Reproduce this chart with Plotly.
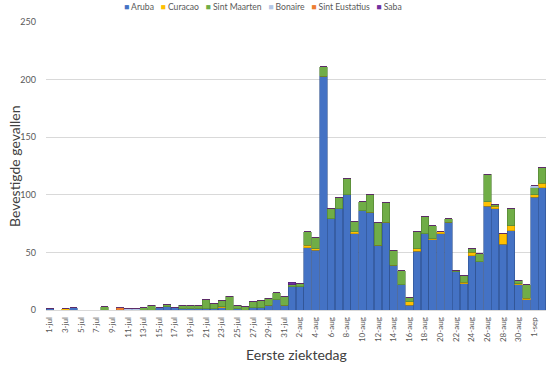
import plotly.graph_objects as go

dates = [f"{d}-jul" for d in range(1, 32)] + [f"{d}-aug" for d in range(1, 32)] + ["1-sep", "2-sep"]

aruba = [1, 0, 0, 2, 0, 0, 0, 0, 0, 0, 0, 0, 0, 0, 2, 3, 2, 1, 1, 1, 1, 1, 2, 0, 1, 0, 2, 2, 4, 9, 4,
         20, 20, 54, 52, 203, 79, 88, 100, 66, 86, 85, 56, 76, 39, 22, 4, 51, 66, 61, 66, 76, 33, 23, 47, 42,
         90, 88, 57, 69, 22, 9, 98, 106]
curacao = [0, 0, 1, 0, 0, 0, 0, 0, 0, 0, 0, 0, 0, 0, 0, 0, 0, 0, 0, 0, 0, 0, 1, 0, 0, 0, 0, 0, 0, 0, 0,
           0, 0, 2, 1, 0, 0, 0, 0, 2, 0, 0, 0, 0, 0, 0, 3, 2, 0, 1, 2, 0, 0, 1, 3, 0,
           4, 2, 9, 4, 1, 1, 2, 4]
sint_maarten = [0, 0, 0, 0, 0, 0, 0, 3, 0, 0, 0, 0, 2, 4, 0, 2, 0, 3, 3, 3, 8, 5, 5, 12, 3, 3, 5, 6, 6, 6, 8,
                2, 3, 12, 10, 8, 9, 10, 14, 9, 8, 15, 20, 17, 13, 12, 4, 15, 15, 11, 0, 3, 1, 6, 3, 7,
                24, 2, 0, 15, 3, 12, 6, 14]
bonaire = [0] * 10 + [1, 1] + [0] * 50 + [2, 0]
sint_eustatius = [0] * 9 + [2] + [0] * 54
saba = [0] * 31 + [2] + [0] * 32

tick_labels = dates[0:63:2]

series = [
    ("Aruba", aruba, "#4472C4", "#2F528F"),
    ("Curacao", curacao, "#FFC000", "#BC8C00"),
    ("Sint Maarten", sint_maarten, "#70AD47", "#507E32"),
    ("Bonaire", bonaire, "#B4C7E7", "#8FAADC"),
    ("Sint Eustatius", sint_eustatius, "#ED7D31", "#AE5A21"),
    ("Saba", saba, "#7030A0", "#4E2070"),
]

fig = go.Figure()
for name, vals, col, lcol in series:
    fig.add_trace(go.Bar(x=dates, y=vals, name=name, marker=dict(color=col, line=dict(color=lcol, width=0.6))))

legend_text = "&nbsp;&nbsp;&nbsp;".join(
    f"<span style='color:{c}'>■</span> {n}" for n, _, c, _ in series)

L, T, PW, PH = 46, 22, 500, 288

fig.update_layout(
    width=550, height=366,
    barmode="stack", bargap=0.04,
    showlegend=False,
    paper_bgcolor="white", plot_bgcolor="white",
    margin=dict(l=L, r=550 - L - PW, t=T, b=366 - T - PH, autoexpand=False),
    font=dict(family="Lato", color="#595959"),
    annotations=[
        dict(text=legend_text, xref="paper", yref="paper", x=(263 - L) / PW, y=1 + (T - 7) / PH,
             xanchor="center", yanchor="middle", showarrow=False, font=dict(size=8.6, color="#595959")),
        dict(text="Eerste ziektedag", xref="paper", yref="paper", x=0.5, y=-(354 - T - PH) / PH,
             xanchor="center", yanchor="middle", showarrow=False, font=dict(size=14, color="#404040")),
        dict(text="Bevestigde gevallen", xref="paper", yref="paper", x=-(L - 14) / PW, y=0.5,
             xanchor="center", yanchor="middle", textangle=-90, showarrow=False,
             font=dict(size=14, color="#404040")),
    ],
)
fig.update_yaxes(range=[0, 250], dtick=50, showgrid=True, gridcolor="#D9D9D9", gridwidth=1,
                 zeroline=False, showline=False, tickfont=dict(size=9, color="#595959"),
                 ticklabelstandoff=9)
fig.update_xaxes(type="category", tickmode="array", tickvals=tick_labels, ticktext=tick_labels,
                 tickangle=-90, tickfont=dict(size=8, color="#595959"), showline=True,
                 linecolor="#D9D9D9", linewidth=1, showgrid=False, ticklabelstandoff=3)

fig.write_html("out.html", config={"displayModeBar": False},
               post_script="document.body.style.margin='0px';")
